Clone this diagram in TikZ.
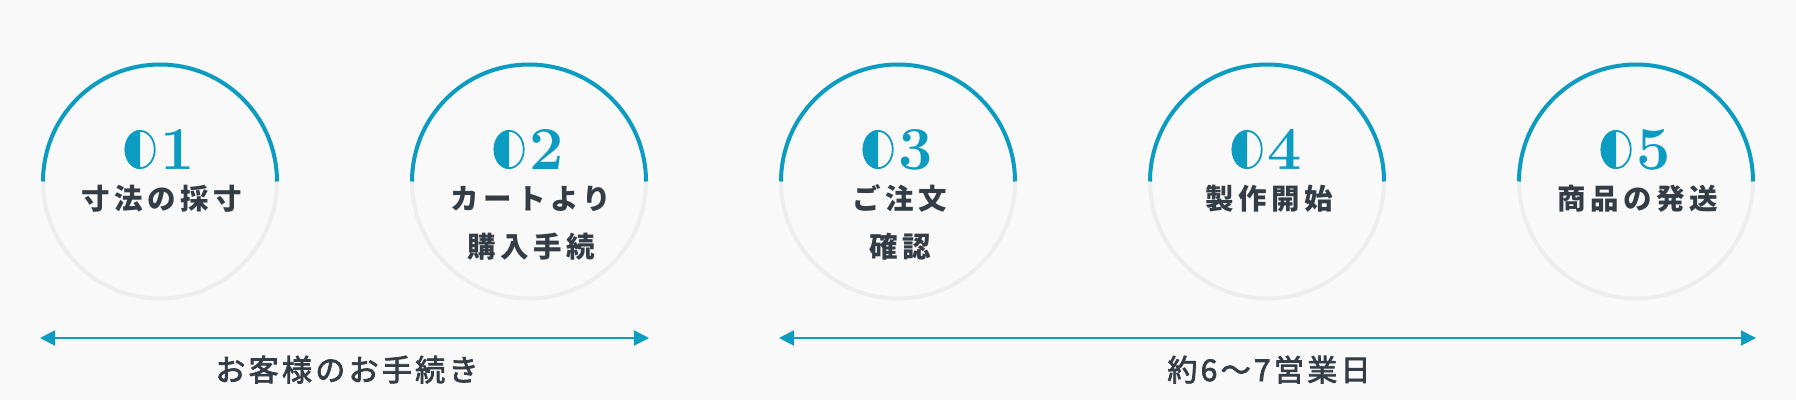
\documentclass[tikz,border=0pt]{standalone}
\usepackage{fontspec}
\usetikzlibrary{arrows.meta}
\newfontfamily\jpfont{Noto Sans CJK JP}
\definecolor{accent}{HTML}{0C9CC2}
\definecolor{inkc}{HTML}{343D46}
\definecolor{ringgrey}{HTML}{EDEDED}
\definecolor{bgc}{HTML}{F9F9F9}
\tikzset{
  ringblue/.style={accent,line width=4pt},
  ringgr/.style={ringgrey,line width=4pt},
  numtext/.style={anchor=base,inner sep=0pt,text=accent,font={\fontsize{61pt}{61pt}\selectfont\bfseries\addfontfeature{FakeBold=1.5}}},
  zerofill/.style={fill=accent},
  zeroline/.style={draw=accent,line width=1.8pt},
  lab/.style={anchor=base,inner sep=0pt,text=inkc,font={\fontsize{28.5pt}{28.5pt}\jpfont\bfseries\addfontfeature{LetterSpace=16}}},
  blab/.style={anchor=base,inner sep=0pt,text=inkc,font={\fontsize{30pt}{30pt}\jpfont\addfontfeature{LetterSpace=11,FakeBold=2.5}}},
  span/.style={accent,line width=2pt,{Triangle[length=15pt,width=15pt]}-{Triangle[length=15pt,width=15pt]}}
}
\begin{document}
\begin{tikzpicture}[x=1pt,y=1pt]
\useasboundingbox (0,0) rectangle (1796,400);
\fill[bgc] (0,0) rectangle (1796,400);
\foreach \i/\cx in {1/160,2/529,3/898,4/1267,5/1636}{
  \coordinate (c\i) at (\cx,218.5);
  \draw[ringgr] ([shift={(180:117)}]c\i) arc[start angle=180,end angle=360,radius=117];
  \draw[ringblue] ([shift={(180:117)}]c\i) arc[start angle=180,end angle=0,radius=117];
}
\node[numtext] (n1) at (160,231) {\hspace{36pt}1};
\node[numtext] (n2) at (529,231) {\hspace{36pt}2};
\node[numtext] (n3) at (898,231) {\hspace{36pt}3};
\node[numtext] (n4) at (1267,231) {\hspace{36pt}4};
\node[numtext] (n5) at (1636,231) {\hspace{36pt}5};
\foreach \i in {1,...,5}{
  \fill[zerofill] ([shift={(15.5,0)}]n\i.base west) arc[start angle=270,end angle=90,x radius=15.5,y radius=19.5] -- cycle;
  \draw[zeroline] ([shift={(15.5,19.5)}]n\i.base west) ellipse[x radius=14.6,y radius=18.6];
}
\node[lab] (l1) at (162,191) {寸法の採寸};
\node[lab] (l2a) at (531,191) {カートより};
\node[lab] (l2b) at (531,143) {購入手続};
\node[lab] (l3a) at (900,191) {ご注文};
\node[lab] (l3b) at (900,143) {確認};
\node[lab] (l4) at (1269,191) {製作開始};
\node[lab] (l5) at (1638,191) {商品の発送};
\coordinate (a1s) at (40,62);
\coordinate (a1e) at (649,62);
\coordinate (a2s) at (779,62);
\coordinate (a2e) at (1756,62);
\draw[span] (a1s) -- (a1e);
\draw[span] (a2s) -- (a2e);
\node[blab] (b1) at (347,19) {お客様のお手続き};
\node[blab] (b2) at (1269,19) {約6〜7営業日};
\end{tikzpicture}
\end{document}
